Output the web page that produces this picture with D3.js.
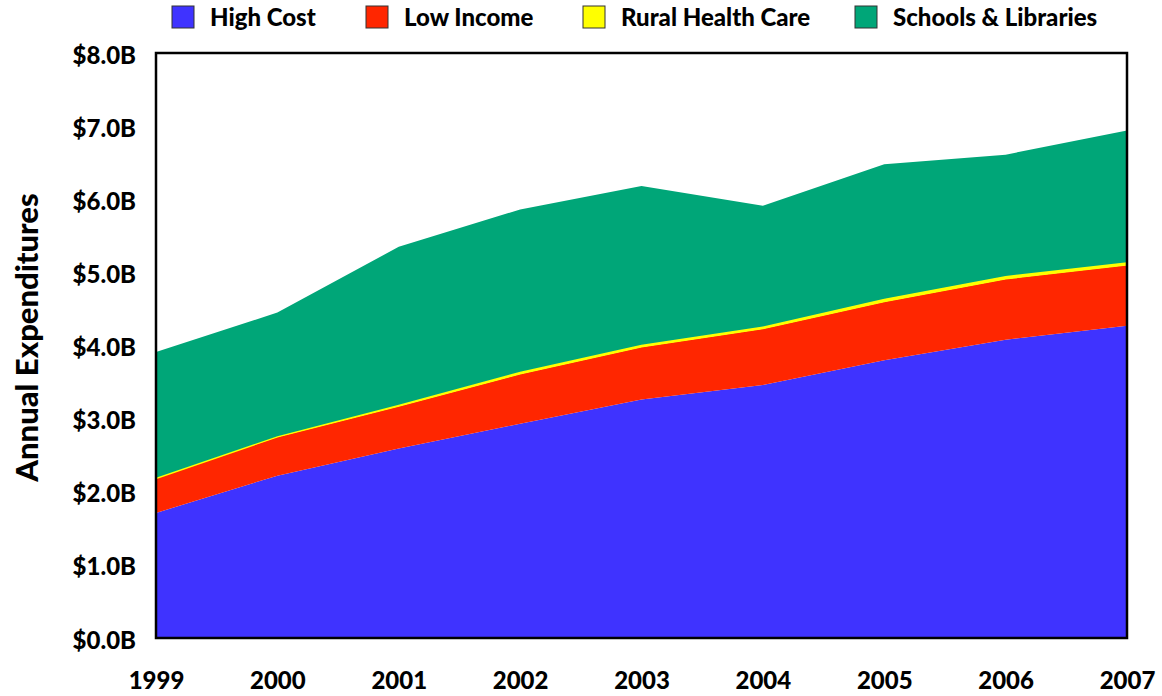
<!DOCTYPE html>
<html>
<head>
<meta charset="utf-8">
<script src="https://cdn.jsdelivr.net/npm/d3@7"></script>
<style>
  body { margin: 0; background: #fff; }
  text { font-family: Lato, "Open Sans", sans-serif; font-weight: 900; fill: #000; }
</style>
</head>
<body>
<div id="chart"></div>
<script>
// data (billions of dollars)
var years = [1999, 2000, 2001, 2002, 2003, 2004, 2005, 2006, 2007];
var highCost = [1.71, 2.22, 2.59, 2.93, 3.26, 3.46, 3.80, 4.08, 4.27];
var lowIncome = [0.47, 0.53, 0.58, 0.68, 0.72, 0.77, 0.80, 0.83, 0.83];
var ruralHealth = [0.01, 0.01, 0.02, 0.03, 0.03, 0.03, 0.04, 0.04, 0.04];
var schoolsLibraries = [1.72, 1.69, 2.16, 2.22, 2.17, 1.65, 1.84, 1.66, 1.80];
var seriesNames = ["High Cost", "Low Income", "Rural Health Care", "Schools & Libraries"];
var seriesColors = ["#3f33ff", "#ff2600", "#ffff00", "#00a678"];
var yTicks = [0, 1, 2, 3, 4, 5, 6, 7, 8];

var W = 1162, H = 696;
var margin = {top: 53, right: 35, bottom: 58, left: 156},
    width = W - margin.left - margin.right,
    height = H - margin.top - margin.bottom;

var svg = d3.select("#chart").append("svg")
  .attr("width", W).attr("height", H);

var g = svg.append("g")
  .attr("transform", "translate(" + margin.left + "," + margin.top + ")");

// build rows for the stack
var rows = years.map(function(y, i) {
  return {
    year: y,
    "High Cost": highCost[i],
    "Low Income": lowIncome[i],
    "Rural Health Care": ruralHealth[i],
    "Schools & Libraries": schoolsLibraries[i]
  };
});
var stacked = d3.stack().keys(seriesNames)(rows);

var x = d3.scaleLinear().domain(d3.extent(years)).range([0, width]);
var y = d3.scaleLinear().domain([0, 8]).range([height, 0]);

var area = d3.area()
  .x(function(d) { return x(d.data.year); })
  .y0(function(d) { return y(d[0]); })
  .y1(function(d) { return y(d[1]); });

g.selectAll("path.layer")
  .data(stacked)
  .enter()
  .append("path")
  .attr("class", "layer")
  .attr("d", area)
  .attr("fill", function(d, i) { return seriesColors[i]; })
  .attr("stroke", function(d, i) { return i == 2 ? seriesColors[i] : "none"; })
  .attr("stroke-width", function(d, i) { return i == 2 ? 1.2 : 0; });

// frame
g.append("rect")
  .attr("width", width).attr("height", height)
  .attr("fill", "none").attr("stroke", "#000").attr("stroke-width", 2.5);

// y axis labels
var yAxis = g.append("g")
  .call(d3.axisLeft(y).tickValues(yTicks).tickSize(0).tickPadding(20)
    .tickFormat(function(d) { return "$" + d.toFixed(1) + "B"; }));
yAxis.select(".domain").remove();
yAxis.selectAll("text")
  .style("font-size", "24px").style("font-family", "Lato, sans-serif").style("font-weight", 900)
  .attr("dy", "0.42em");

// x axis labels
var xAxis = g.append("g")
  .attr("transform", "translate(0," + height + ")")
  .call(d3.axisBottom(x).tickValues(years).tickSize(0).tickPadding(34)
    .tickFormat(d3.format("d")));
xAxis.select(".domain").remove();
xAxis.selectAll("text")
  .style("font-size", "24px").style("font-family", "Lato, sans-serif").style("font-weight", 900);

// y axis title
svg.append("text")
  .attr("text-anchor", "middle")
  .attr("transform", "translate(" + 38 + "," + (margin.top + height / 2 - 8) + ")rotate(-90)")
  .style("font-size", "31px")
  .text("Annual Expenditures");

// legend
var legendX = [172, 366, 583, 855];
var legend = svg.append("g");
var items = legend.selectAll("g")
  .data(seriesNames)
  .enter()
  .append("g")
  .attr("transform", function(d, i) { return "translate(" + legendX[i] + ",6)"; });
items.append("rect")
  .attr("width", 22).attr("height", 22)
  .attr("fill", function(d, i) { return seriesColors[i]; })
  .attr("stroke", "#333").attr("stroke-width", 1);
items.append("text")
  .attr("x", 38).attr("y", 20)
  .style("font-size", "24px")
  .text(function(d) { return d; });
</script>
</body>
</html>
